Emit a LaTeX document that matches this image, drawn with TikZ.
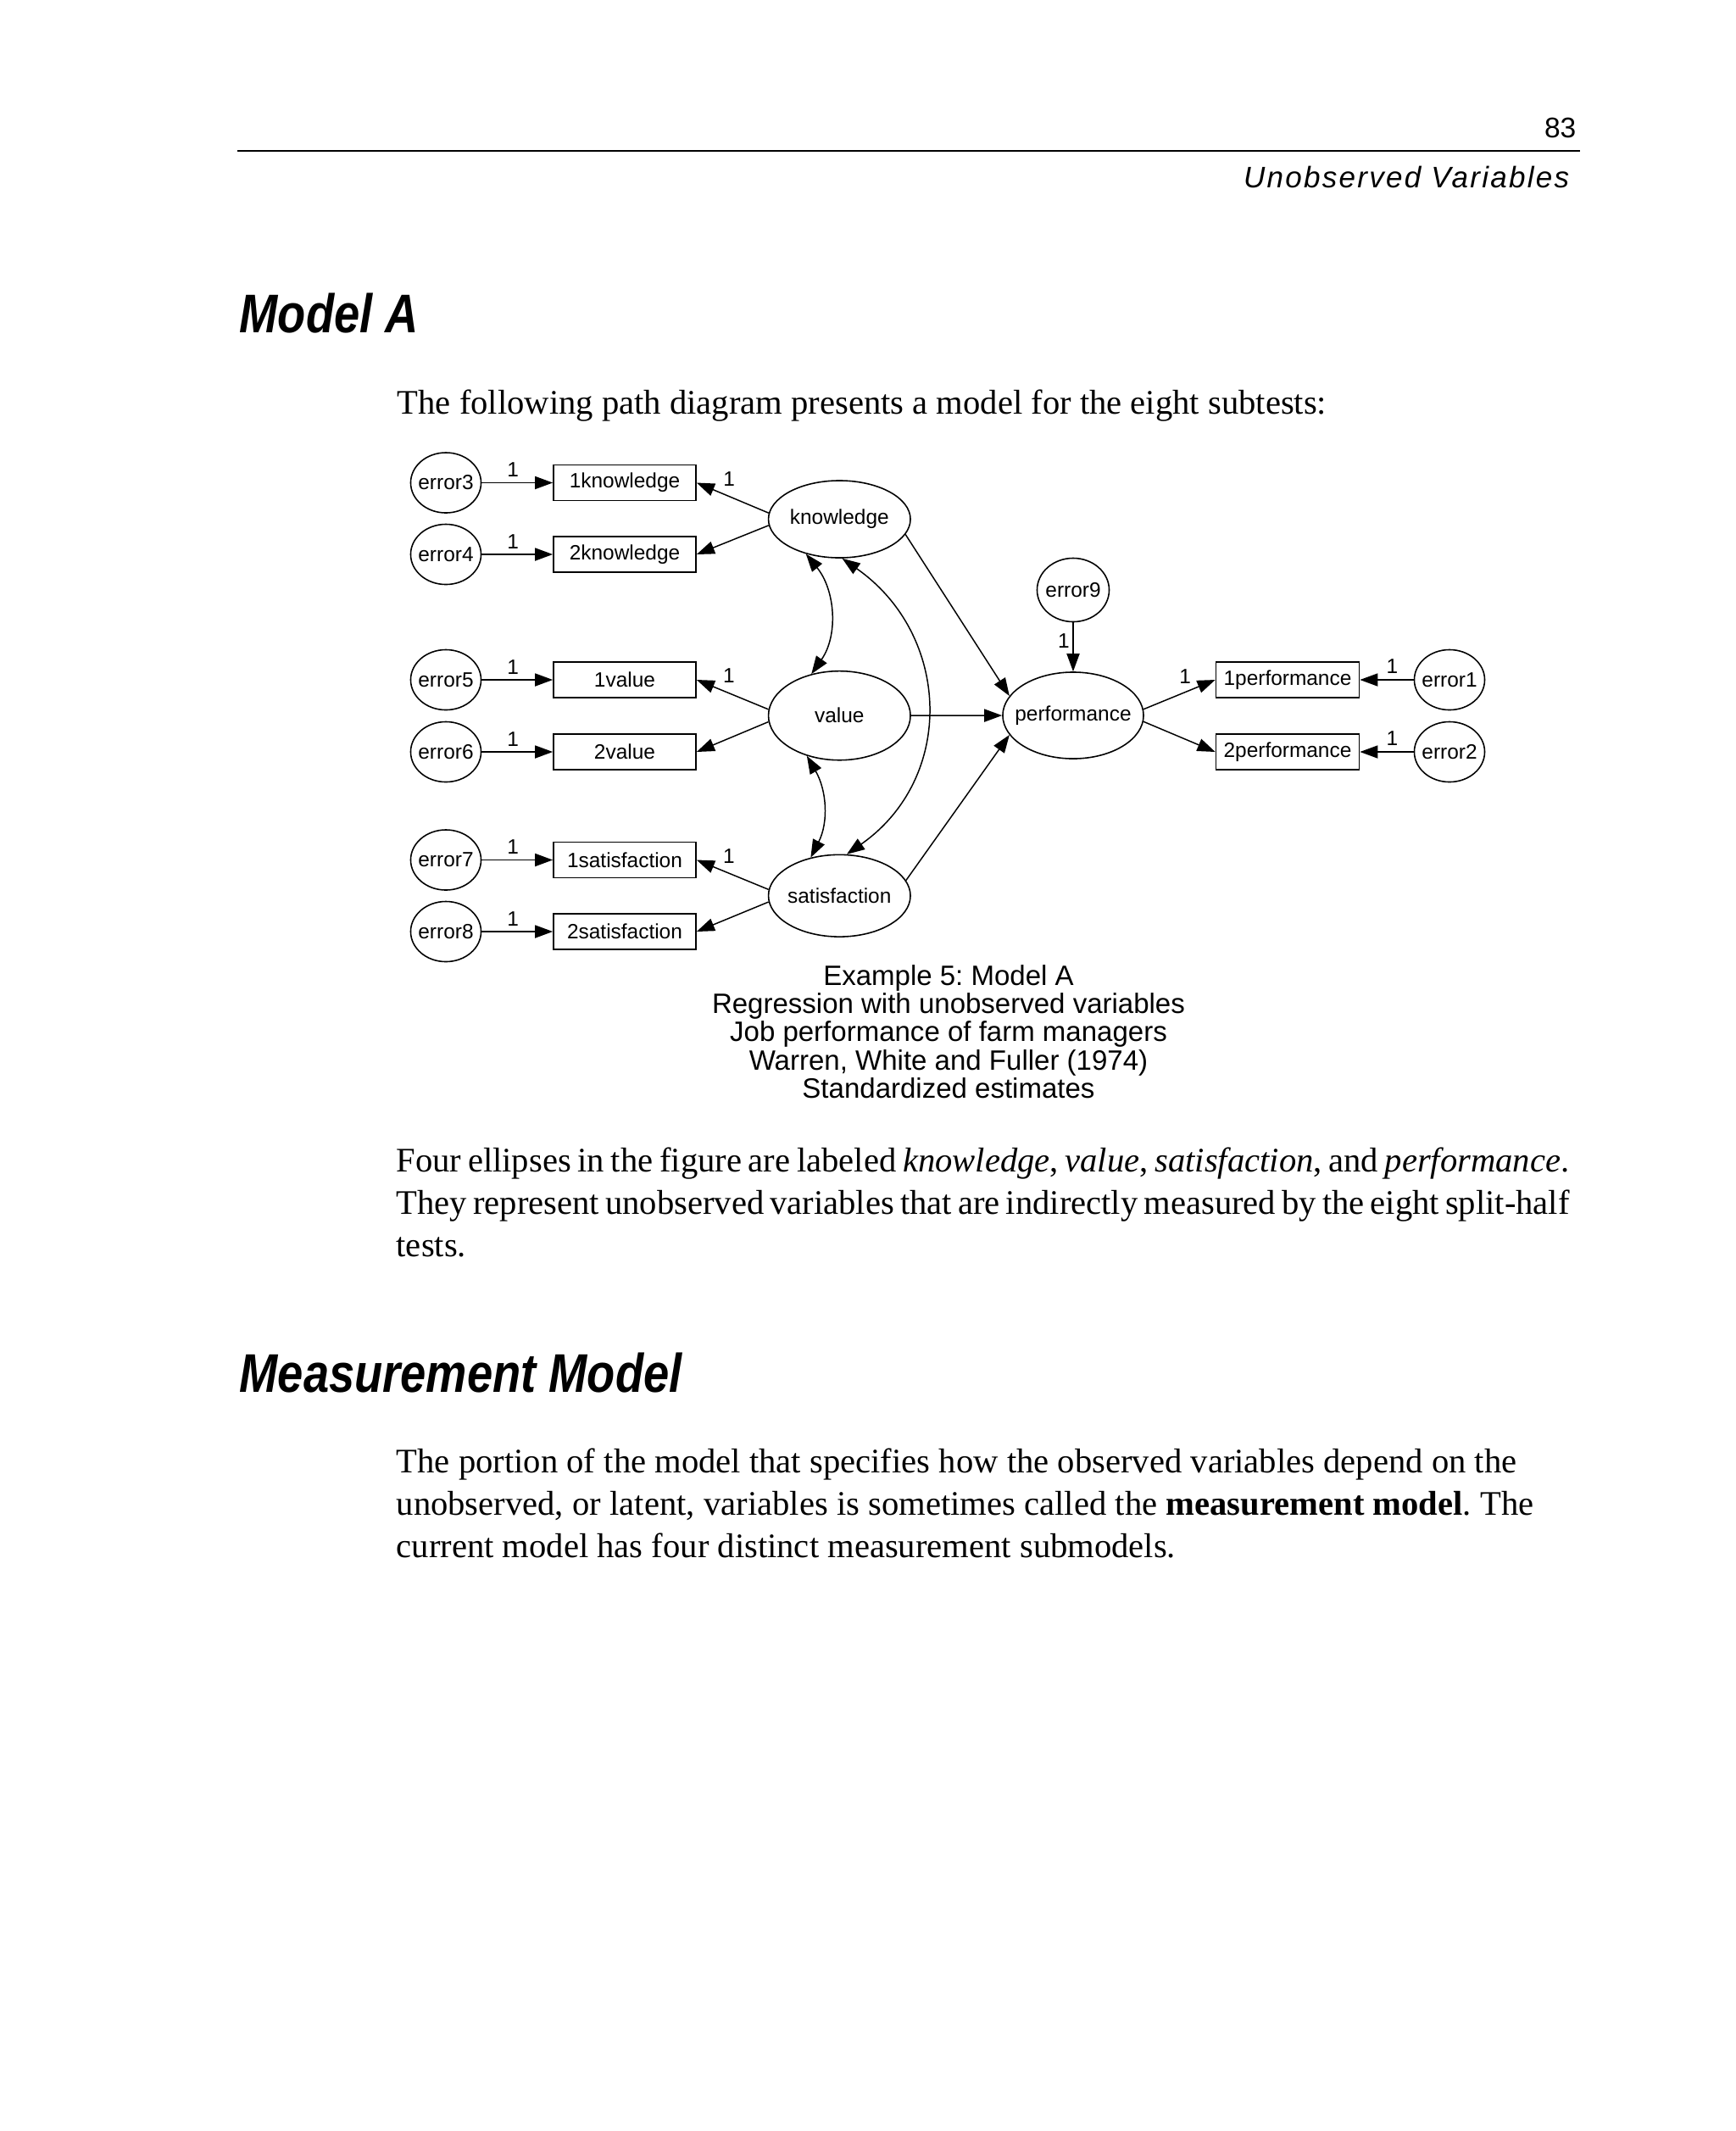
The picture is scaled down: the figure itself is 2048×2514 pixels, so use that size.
\documentclass[tikz,border=0pt]{standalone}
\usepackage{fontspec}
\usepackage{graphicx}
\setmainfont{Liberation Serif}
\newfontfamily\sansf{Liberation Sans}
\newfontfamily\sansls{Liberation Sans}[LetterSpace=6.5]
\usetikzlibrary{shapes.geometric,arrows.meta,calc}
\frenchspacing
\newcommand{\dgfont}{\sansf\fontsize{6.95pt}{8pt}\selectfont}
\newcommand{\capfont}{\sansf\fontsize{9.39pt}{9.42pt}\selectfont}
\newcommand{\bodyfont}{\fontsize{11.55pt}{14pt}\selectfont}
\newcommand{\headfont}{\sansf\bfseries\itshape\fontsize{18.27pt}{20pt}\selectfont}
\newcommand{\jline}[2]{\makebox[#1][s]{\spaceskip=0.25em plus 0.3em minus 0.16em\relax #2}}
\begin{document}
\frenchspacing
\begin{tikzpicture}[x=0.01cm,y=0.01cm,
  lat/.style={ellipse, draw, line width=0.45pt, inner sep=0pt, font=\dgfont, minimum width=1.674cm},
  err/.style={ellipse, draw, line width=0.45pt, inner sep=0pt, font=\dgfont, minimum width=0.83cm, minimum height=0.71cm},
  obs/.style={rectangle, draw, line width=0.45pt, inner sep=0pt, font=\dgfont, minimum width=1.68cm, minimum height=0.42cm},
  arr/.style={line width=0.42pt, -{Triangle[length=6pt,width=4.3pt]}},
  darr/.style={line width=0.42pt, {Triangle[length=6pt,width=4.3pt]}-{Triangle[length=6pt,width=4.3pt]}},
  lab/.style={font=\dgfont, inner sep=0pt},
  txt/.style={anchor=base west, inner sep=0pt, font=\bodyfont},
  capline/.style={anchor=base, inner sep=0pt, font=\capfont}]
\fill[white] (0,0) rectangle (2048,-2514);
\useasboundingbox (0,0) rectangle (2048,-2514);

% header
\node[anchor=base east, inner sep=0pt, font=\sansf\fontsize{9.53pt}{11pt}\selectfont] (pnum) at (1860,-162) {83};
\coordinate (rl) at (280,-177.7);
\coordinate (rr) at (1864,-177.7);
\draw[line width=0.57pt] (rl) -- (rr);
\node[anchor=base east, inner sep=0pt, font=\sansls\itshape\fontsize{9.96pt}{11pt}\selectfont] (chap) at (1852,-221.7) {Unobserved Variables};

% heading
\node[anchor=base west, inner sep=0pt, font=\headfont] (h1) at (282,-392.7) {\scalebox{0.845}[1]{Model A}};
\node[txt] (intro) at (468,-488.3) {The following path diagram presents a model for the eight subtests:};

% ---------- diagram ----------
\node[err] (e3) at (526,-569.5) {\makebox[0pt]{error3}};
\node[err] (e4) at (526,-654) {\makebox[0pt]{error4}};
\node[err] (e5) at (526,-802) {\makebox[0pt]{error5}};
\node[err] (e6) at (526,-887) {\makebox[0pt]{error6}};
\node[err] (e7) at (526,-1014.5) {\makebox[0pt]{error7}};
\node[err] (e8) at (526,-1099) {\makebox[0pt]{error8}};

\node[obs] (k1) at (737,-569.5) {1knowledge};
\node[obs] (k2) at (737,-654) {2knowledge};
\node[obs] (v1) at (737,-802) {1value};
\node[obs] (v2) at (737,-887) {2value};
\node[obs] (s1) at (737,-1014.5) {1satisfaction};
\node[obs] (s2) at (737,-1099) {2satisfaction};

\node[lat, minimum height=0.91cm] (K) at (990.3,-612.5) {\makebox[0pt]{knowledge}};
\node[lat, minimum height=1.05cm] (V) at (990.3,-844.2) {\makebox[0pt]{value}};
\node[lat, minimum height=0.967cm] (S) at (990.3,-1056.7) {\makebox[0pt]{satisfaction}};
\node[lat, minimum width=1.66cm, minimum height=1.02cm] (P) at (1266,-844) {\makebox[0pt]{performance}};
\node[err, minimum width=0.85cm, minimum height=0.75cm] (e9) at (1266,-696) {\makebox[0pt]{error9}};

\node[obs, minimum width=1.69cm] (p1) at (1519,-802) {1performance};
\node[obs, minimum width=1.69cm] (p2) at (1519,-887) {2performance};
\node[err] (e1) at (1710,-802) {\makebox[0pt]{error1}};
\node[err] (e2) at (1710,-887) {\makebox[0pt]{error2}};

% error -> indicator
\draw[arr] (e3) -- node[lab, above=1.65pt, pos=0.44] {1} (k1);
\draw[arr] (e4) -- node[lab, above=1.65pt, pos=0.44] {1} (k2);
\draw[arr] (e5) -- node[lab, above=1.65pt, pos=0.44] {1} (v1);
\draw[arr] (e6) -- node[lab, above=1.65pt, pos=0.44] {1} (v2);
\draw[arr] (e7) -- node[lab, above=1.65pt, pos=0.44] {1} (s1);
\draw[arr] (e8) -- node[lab, above=1.65pt, pos=0.44] {1} (s2);

% latent -> indicator
\draw[arr] (K.175) -- node[lab, above=3.2pt, pos=0.55] {1} (k1.east);
\draw[arr] (K.185) -- (k2.east);
\draw[arr] (V.175) -- node[lab, above=3.2pt, pos=0.55] {1} (v1.east);
\draw[arr] (V.185) -- (v2.east);
\draw[arr] (S.175) -- node[lab, above=3.2pt, pos=0.55] {1} (s1.east);
\draw[arr] (S.185) -- (s2.east);

% covariances
\draw[darr] (K.226) to[out=-51, in=55] (V.124);
\draw[darr] (V.231) to[out=-60, in=63] (S.127.5);
\draw[darr] (K.274) to[out=-35, in=35, looseness=1.15] (S.80.6);

% regressions
\draw[arr] (K.-13) -- (P.163);
\draw[arr] (V) -- (P);
\draw[arr] (S.13) -- (P.197);
\draw[arr] (e9) -- node[lab, left=1pt, pos=0.37] {1} (P);

\draw[arr] (P.5) -- node[lab, above=2.6pt, pos=0.58] {1} (p1.west);
\draw[arr] (P.-5) -- (p2.west);
\draw[arr] (e1) -- node[lab, above=1.9pt, pos=0.4] {1} (p1);
\draw[arr] (e2) -- node[lab, above=1.9pt, pos=0.4] {1} (p2);

% caption
\node[capline] (c1) at (1119,-1162.7) {Example 5: Model A};
\node[capline] (c2) at (1119,-1195.8) {Regression with unobserved variables};
\node[capline] (c3) at (1119,-1228.9) {Job performance of farm managers};
\node[capline] (c4) at (1119,-1262) {Warren, White and Fuller (1974)};
\node[capline] (c5) at (1119,-1295.1) {Standardized estimates};

% paragraph 1
\node[txt] (pa1) at (467,-1382.5) {\jline{13.83cm}{Four ellipses in the figure are labeled \textit{knowledge}, \textit{value}, \textit{satisfaction}, and \textit{performance}.}};
\node[txt] (pa2) at (467,-1432.5) {\jline{13.83cm}{They represent unobserved variables that are indirectly measured by the eight split-half}};
\node[txt] (pa3) at (467,-1482.5) {tests.};

% heading 2
\node[anchor=base west, inner sep=0pt, font=\headfont] (h2) at (282,-1642) {\scalebox{0.845}[1]{Measurement Model}};

% paragraph 2
\node[txt] (pb1) at (467,-1737) {\jline{13.21cm}{The portion of the model that specifies how the observed variables depend on the}};
\node[txt] (pb2) at (467,-1787) {\jline{13.41cm}{unobserved, or latent, variables is sometimes called the \textbf{measurement model}. The}};
\node[txt] (pb3) at (467,-1837) {current model has four distinct measurement submodels.};
\end{tikzpicture}
\end{document}
